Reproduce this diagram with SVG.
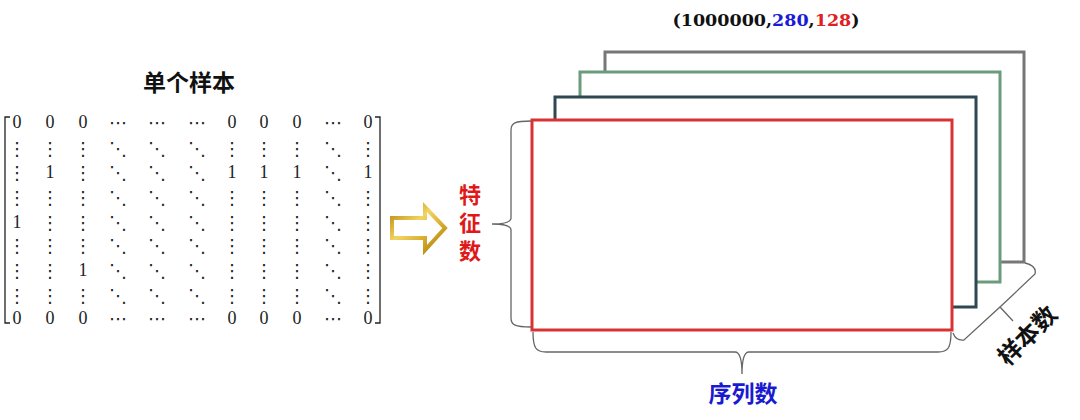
<svg xmlns="http://www.w3.org/2000/svg" width="1080" height="420" viewBox="0 0 1080 420">
<style>
.cjk{font-family:"Noto Sans CJK SC",sans-serif;font-weight:bold;font-size:22px;text-anchor:middle;dominant-baseline:central}
.m{font-family:"Liberation Serif",serif;font-size:18px;fill:#222;text-anchor:middle;dominant-baseline:central}
.d{font-family:"DejaVu Sans",sans-serif;font-size:18px;fill:#222;text-anchor:middle;dominant-baseline:central}
.brace{fill:none;stroke:#666;stroke-width:1.3}
.layer{fill:#fff;stroke-width:3}
.brk{fill:none;stroke:#222;stroke-width:1.3}
.tup{font-family:"DejaVu Serif",serif;font-weight:bold;font-size:17.5px}
</style>
<defs>
<linearGradient id="gold" x1="0" y1="0" x2="1" y2="1">
<stop offset="0" stop-color="#b8860b"/>
<stop offset="0.4" stop-color="#f2d462"/>
<stop offset="0.7" stop-color="#d4a82a"/>
<stop offset="1" stop-color="#a8780a"/>
</linearGradient>
</defs>

<g id="title">
<text class="cjk" x="189" y="81" style="font-size:23px" fill="#111">单个样本</text>
</g>

<g id="matrix">
<path class="brk" d="M10,117 L5,117 L5,323 L10,323"/>
<path class="brk" d="M375,117 L380,117 L380,323 L375,323"/>
<g id="row0">
<text class="m" x="17" y="122">0</text><text class="m" x="50" y="122">0</text><text class="m" x="83" y="122">0</text>
<text class="d" x="118" y="122">⋯</text><text class="d" x="157" y="122">⋯</text><text class="d" x="197" y="122">⋯</text>
<text class="m" x="232" y="122">0</text><text class="m" x="264" y="122">0</text><text class="m" x="297" y="122">0</text>
<text class="d" x="333" y="122">⋯</text><text class="m" x="368" y="122">0</text>
</g>
<g id="row1">
<text class="d" x="17" y="148">⋮</text><text class="d" x="50" y="148">⋮</text><text class="d" x="83" y="148">⋮</text>
<text class="d" x="118" y="148">⋱</text><text class="d" x="157" y="148">⋱</text><text class="d" x="197" y="148">⋱</text>
<text class="d" x="232" y="148">⋮</text><text class="d" x="264" y="148">⋮</text><text class="d" x="297" y="148">⋮</text>
<text class="d" x="333" y="148">⋱</text><text class="d" x="368" y="148">⋮</text>
</g>
<g id="row2">
<text class="d" x="17" y="172">⋮</text><text class="m" x="50" y="172">1</text><text class="d" x="83" y="172">⋮</text>
<text class="d" x="118" y="172">⋱</text><text class="d" x="157" y="172">⋱</text><text class="d" x="197" y="172">⋱</text>
<text class="m" x="232" y="172">1</text><text class="m" x="264" y="172">1</text><text class="m" x="297" y="172">1</text>
<text class="d" x="333" y="172">⋱</text><text class="m" x="368" y="172">1</text>
</g>
<g id="row3">
<text class="d" x="17" y="197">⋮</text><text class="d" x="50" y="197">⋮</text><text class="d" x="83" y="197">⋮</text>
<text class="d" x="118" y="197">⋱</text><text class="d" x="157" y="197">⋱</text><text class="d" x="197" y="197">⋱</text>
<text class="d" x="232" y="197">⋮</text><text class="d" x="264" y="197">⋮</text><text class="d" x="297" y="197">⋮</text>
<text class="d" x="333" y="197">⋱</text><text class="d" x="368" y="197">⋮</text>
</g>
<g id="row4">
<text class="m" x="17" y="222">1</text><text class="d" x="50" y="222">⋮</text><text class="d" x="83" y="222">⋮</text>
<text class="d" x="118" y="222">⋱</text><text class="d" x="157" y="222">⋱</text><text class="d" x="197" y="222">⋱</text>
<text class="d" x="232" y="222">⋮</text><text class="d" x="264" y="222">⋮</text><text class="d" x="297" y="222">⋮</text>
<text class="d" x="333" y="222">⋱</text><text class="d" x="368" y="222">⋮</text>
</g>
<g id="row5">
<text class="d" x="17" y="245">⋮</text><text class="d" x="50" y="245">⋮</text><text class="d" x="83" y="245">⋮</text>
<text class="d" x="118" y="245">⋱</text><text class="d" x="157" y="245">⋱</text><text class="d" x="197" y="245">⋱</text>
<text class="d" x="232" y="245">⋮</text><text class="d" x="264" y="245">⋮</text><text class="d" x="297" y="245">⋮</text>
<text class="d" x="333" y="245">⋱</text><text class="d" x="368" y="245">⋮</text>
</g>
<g id="row6">
<text class="d" x="17" y="270">⋮</text><text class="d" x="50" y="270">⋮</text><text class="m" x="83" y="270">1</text>
<text class="d" x="118" y="270">⋱</text><text class="d" x="157" y="270">⋱</text><text class="d" x="197" y="270">⋱</text>
<text class="d" x="232" y="270">⋮</text><text class="d" x="264" y="270">⋮</text><text class="d" x="297" y="270">⋮</text>
<text class="d" x="333" y="270">⋱</text><text class="d" x="368" y="270">⋮</text>
</g>
<g id="row7">
<text class="d" x="17" y="295">⋮</text><text class="d" x="50" y="295">⋮</text><text class="d" x="83" y="295">⋮</text>
<text class="d" x="118" y="295">⋱</text><text class="d" x="157" y="295">⋱</text><text class="d" x="197" y="295">⋱</text>
<text class="d" x="232" y="295">⋮</text><text class="d" x="264" y="295">⋮</text><text class="d" x="297" y="295">⋮</text>
<text class="d" x="333" y="295">⋱</text><text class="d" x="368" y="295">⋮</text>
</g>
<g id="row8">
<text class="m" x="17" y="318">0</text><text class="m" x="50" y="318">0</text><text class="m" x="83" y="318">0</text>
<text class="d" x="118" y="318">⋯</text><text class="d" x="157" y="318">⋯</text><text class="d" x="197" y="318">⋯</text>
<text class="m" x="232" y="318">0</text><text class="m" x="264" y="318">0</text><text class="m" x="297" y="318">0</text>
<text class="d" x="333" y="318">⋯</text><text class="m" x="368" y="318">0</text>
</g>
</g>

<g id="arrow">
<path d="M392,218 L425,218 L425,207 L445,228 L425,250 L425,238 L392,238 Z" fill="#fff" stroke="url(#gold)" stroke-width="4" stroke-linejoin="miter"/>
</g>

<g id="feature-label">
<text x="470" y="226" fill="#e01818" writing-mode="vertical-rl" letter-spacing="6" style="font-family:'Noto Sans CJK SC',sans-serif;font-weight:bold;font-size:22px;text-anchor:middle">特征数</text>
</g>

<g id="shape-label">
<text class="tup" x="766" y="26" text-anchor="middle"><tspan fill="#111">(1000000,</tspan><tspan fill="#1a1ad8">280</tspan><tspan fill="#111">,</tspan><tspan fill="#e02020">128</tspan><tspan fill="#111">)</tspan></text>
</g>

<g id="layer4"><rect class="layer" x="605" y="52" width="419" height="210" stroke="#777"/></g>
<g id="layer3"><rect class="layer" x="580" y="72" width="420" height="210" stroke="#6a9c7c"/></g>
<g id="layer2"><rect class="layer" x="555" y="97" width="421" height="210" stroke="#2f4750"/></g>
<g id="layer1"><rect class="layer" x="532" y="120" width="420" height="210" stroke="#d93232"/></g>

<g id="connectors">
<path class="brace" d="M531,121 C515,121 511,123 511,130 L511,218 C511,222 505,224 492,224 C505,224 511,226 511,230 L511,318 C511,325 515,327 531,327"/>
<path class="brace" d="M533,332 C533,348 536,352 546,352 L735,352 C739,352 742,356 742,374 C742,356 745,352 749,352 L938,352 C948,352 951,348 951,332"/>
<path class="brace" d="M953,333 Q956,341 964,340 L1000,307 L1013,321 M1000,307 L1035,274 Q1037,266 1025,263"/>
</g>

<g id="seq-label">
<text class="cjk" x="743" y="392" style="font-size:23px" fill="#1a1ad0">序列数</text>
</g>
<g id="sample-label">
<text class="cjk" x="1026" y="334" style="font-size:24px" fill="#111" transform="rotate(-45 1026 334)">样本数</text>
</g>
</svg>
